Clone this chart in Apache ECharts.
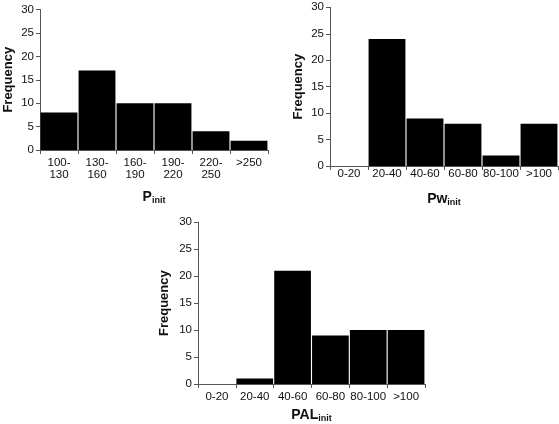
<!DOCTYPE html>
<html><head><meta charset="utf-8">
<script src="https://cdn.jsdelivr.net/npm/echarts@6/dist/echarts.min.js"></script>
<style>html,body{margin:0;padding:0;background:#fff}#c{width:559px;height:424px}</style>
</head><body><div id="c"></div>
<script>
const catsP = ['100-\n130','130-\n160','160-\n190','190-\n220','220-\n250','>250'];
const valsP = [8, 17, 10, 10, 4, 2];
const catsPw = ['0-20','20-40','40-60','60-80','80-100','>100'];
const valsPw = [0, 24, 9, 8, 2, 8];
const catsPAL = ['0-20','20-40','40-60','60-80','80-100','>100'];
const valsPAL = [0, 1, 21, 9, 10, 10];
const yTicks = {min: 0, max: 30, interval: 5};
const xNames = [['P', 'init'], ['Pw', 'init'], ['PAL', 'init']];
const yName = 'Frequency';

const FONT = 'Liberation Sans, Arial, sans-serif';
const axisCol = '#555';
const grids = [
  {left: 40, top: 9.5, width: 228, height: 140.5},
  {left: 330, top: 7.3, width: 228, height: 158.7},
  {left: 198, top: 222.3, width: 227, height: 161.7}
];
const nameGaps = [47, 33, 31];
const yNameGaps = [32, 32, 34];
function xAx(idx, cats, margin) {
  return {
    type: 'category', gridIndex: idx, data: cats,
    axisLine: {lineStyle: {color: axisCol, width: 1}},
    axisTick: {show: true, alignWithLabel: false, length: 4, lineStyle: {color: axisCol}},
    axisLabel: {color: '#111', fontSize: 11.5, fontFamily: FONT, margin: margin, lineHeight: 12, interval: 0}
  };
}
function yAx(idx) {
  return {
    type: 'value', gridIndex: idx, min: yTicks.min, max: yTicks.max, interval: yTicks.interval,
    splitLine: {show: false},
    axisLine: {show: true, lineStyle: {color: axisCol, width: 1}},
    axisTick: {show: true, length: 4, lineStyle: {color: axisCol}},
    axisLabel: {color: '#111', fontSize: 11.5, fontFamily: FONT, margin: 6}
  };
}
function bar(idx, vals) {
  return {type: 'bar', xAxisIndex: idx, yAxisIndex: idx, data: vals,
    barCategoryGap: '3%', itemStyle: {color: '#000'}, silent: true};
}
const graphics = [];
grids.forEach((g, i) => {
  graphics.push({
    type: 'text',
    x: g.left + g.width / 2,
    y: g.top + g.height + nameGaps[i],
    style: {
      text: '{m|' + xNames[i][0] + '}{s|' + xNames[i][1] + '}',
      align: 'center', verticalAlign: 'middle',
      rich: {
        m: {fontSize: 14, fontWeight: 'bold', fontFamily: FONT, fill: '#111', color: '#111'},
        s: {fontSize: 9, fontWeight: 'bold', fontFamily: FONT, fill: '#111', color: '#111', padding: [7, 0, 0, 0]}
      }
    }
  });
  graphics.push({
    type: 'text',
    x: g.left - yNameGaps[i],
    y: g.top + g.height / 2,
    rotation: Math.PI / 2,
    style: {
      text: yName, align: 'center', verticalAlign: 'middle',
      fontSize: 13, fontWeight: 'bold', fontFamily: FONT, fill: '#111'
    }
  });
});
const chart = echarts.init(document.getElementById('c'), null, {renderer: 'canvas'});
chart.setOption({
  animation: false,
  grid: grids,
  xAxis: [xAx(0, catsP, 7), xAx(1, catsPw, 2), xAx(2, catsPAL, 7)],
  yAxis: [yAx(0), yAx(1), yAx(2)],
  series: [bar(0, valsP), bar(1, valsPw), bar(2, valsPAL)],
  graphic: graphics
});
</script></body></html>
